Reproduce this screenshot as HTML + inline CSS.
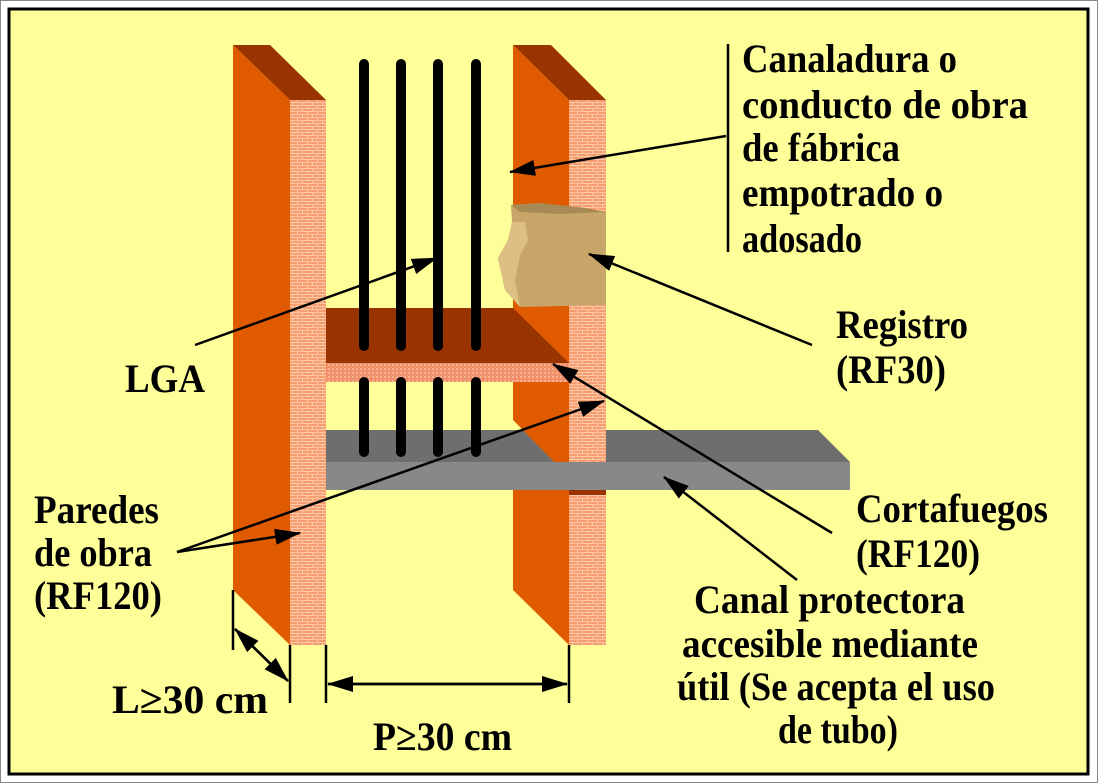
<!DOCTYPE html>
<html><head><meta charset="utf-8"><style>
html,body{margin:0;padding:0;background:#fff;}
svg{display:block;}
text{font-family:"Liberation Serif",serif;font-weight:bold;font-size:40px;fill:#000;}
</style></head><body>
<svg width="1098" height="783" viewBox="0 0 1098 783" xmlns="http://www.w3.org/2000/svg">
<defs>
<pattern id="brick" width="10" height="6" patternUnits="userSpaceOnUse">
<rect width="10" height="6" fill="#F59D6E"/>
<rect x="0" y="0" width="10" height="1" fill="#FCC8A8"/>
<rect x="0" y="3" width="10" height="1" fill="#FCC8A8"/>
<rect x="2" y="0" width="1" height="3" fill="#FCC8A8"/>
<rect x="7" y="3" width="1" height="3" fill="#FCC8A8"/>
</pattern>
<pattern id="brick2" width="4" height="4" patternUnits="userSpaceOnUse">
<rect width="4" height="4" fill="#F0906A"/>
<rect width="2" height="2" fill="#F8B090"/>
</pattern>
<marker id="ah" markerWidth="26" markerHeight="16" refX="25" refY="8" orient="auto" markerUnits="userSpaceOnUse" viewBox="0 0 26 16">
<path d="M0,0 L26,8 L0,16 z" fill="#000"/>
</marker>
</defs>
<rect x="0.5" y="0.5" width="1097" height="782" fill="#fff" stroke="#888"/>
<rect x="9" y="9" width="1079" height="765" fill="#FFFF99" stroke="#000" stroke-width="3"/>

<polygon points="233,45 270,45 326,100 290,100" fill="#993300"/>
<polygon points="233,45 290,100 290,645 233,590" fill="#E05A00"/>
<rect x="290" y="100" width="36" height="545" fill="url(#brick)"/>

<polygon points="326,430 818,430 850,462 326,462" fill="#6E6E6E"/>

<polygon points="513,45 551,45 606,100 569,100" fill="#993300"/>
<polygon points="513,45 569,100 569,477 513,420" fill="#E05A00"/>
<rect x="569" y="100" width="37" height="377" fill="url(#brick)"/>

<polygon points="326,308 513,308 569,363 326,363" fill="#993300"/>
<rect x="326" y="363" width="243" height="19" fill="url(#brick2)"/>

<g stroke="#000" stroke-width="10" stroke-linecap="round">
<line x1="364" y1="64" x2="364" y2="346"/>
<line x1="401" y1="64" x2="401" y2="346"/>
<line x1="438" y1="64" x2="438" y2="346"/>
<line x1="476" y1="64" x2="476" y2="346"/>
<line x1="364" y1="382" x2="364" y2="452"/>
<line x1="401" y1="382" x2="401" y2="452"/>
<line x1="438" y1="382" x2="438" y2="452"/>
<line x1="476" y1="382" x2="476" y2="452"/>
</g>

<rect x="326" y="462" width="524" height="28" fill="#888888"/>

<polygon points="513,490 569,490 569,645 513,590" fill="#E05A00"/>
<rect x="569" y="490" width="37" height="155" fill="url(#brick)"/>
<rect x="569" y="490" width="37" height="5" fill="#993300"/>

<path d="M511,205 L540,203 L585,208 L606,212 L606,305 L520,307 L505,290 L498,258 L508,240 L512,222 Z" fill="#C8A66A"/>
<path d="M511,205 L540,203 L585,208 L606,212 L560,214 L520,212 Z" fill="#A88A55"/>
<path d="M512,222 L508,240 L498,258 L505,290 L520,307 L515,280 L520,255 L528,240 L525,222 Z" fill="#DDBF85"/>

<g stroke="#000" stroke-width="2.5" fill="none">
<line x1="728" y1="44" x2="728" y2="252"/>
<line x1="726" y1="136" x2="510" y2="172" marker-end="url(#ah)"/>
<line x1="195" y1="345" x2="437" y2="258" marker-end="url(#ah)"/>
<line x1="812" y1="345" x2="589" y2="254" marker-end="url(#ah)"/>
<line x1="832" y1="533" x2="553" y2="364" marker-end="url(#ah)"/>
<line x1="797" y1="580" x2="664" y2="477" marker-end="url(#ah)"/>
<line x1="177" y1="552" x2="604" y2="401" marker-end="url(#ah)"/>
<line x1="177" y1="552" x2="300" y2="533" marker-end="url(#ah)"/>
<line x1="233" y1="590" x2="233" y2="650"/>
<line x1="290" y1="645" x2="290" y2="703"/>
<line x1="326" y1="645" x2="326" y2="703"/>
<line x1="569" y1="645" x2="569" y2="703"/>
<line x1="288" y1="681" x2="235" y2="629" marker-end="url(#ah)"/>
<line x1="235" y1="629" x2="288" y2="681" marker-end="url(#ah)"/>
<line x1="328" y1="684" x2="567" y2="684" marker-end="url(#ah)"/>
<line x1="567" y1="684" x2="328" y2="684" marker-end="url(#ah)"/>
</g>

<g>
<text x="742" y="72" textLength="215" lengthAdjust="spacingAndGlyphs">Canaladura o</text>
<text x="742" y="118" textLength="286" lengthAdjust="spacingAndGlyphs">conducto de obra</text>
<text x="742" y="161" textLength="158" lengthAdjust="spacingAndGlyphs">de fábrica</text>
<text x="742" y="206" textLength="201" lengthAdjust="spacingAndGlyphs">empotrado o</text>
<text x="742" y="252" textLength="120" lengthAdjust="spacingAndGlyphs">adosado</text>
<text x="125" y="392" textLength="80" lengthAdjust="spacingAndGlyphs">LGA</text>
<text x="836" y="338" textLength="132" lengthAdjust="spacingAndGlyphs">Registro</text>
<text x="836" y="383" textLength="110" lengthAdjust="spacingAndGlyphs">(RF30)</text>
<text x="34" y="523" textLength="125" lengthAdjust="spacingAndGlyphs">Paredes</text>
<text x="34" y="566" textLength="118" lengthAdjust="spacingAndGlyphs">de obra</text>
<text x="34" y="609" textLength="128" lengthAdjust="spacingAndGlyphs">(RF120)</text>
<text x="856" y="522" textLength="192" lengthAdjust="spacingAndGlyphs">Cortafuegos</text>
<text x="856" y="567" textLength="124" lengthAdjust="spacingAndGlyphs">(RF120)</text>
<text x="694" y="613" textLength="271" lengthAdjust="spacingAndGlyphs">Canal protectora</text>
<text x="682" y="657" textLength="296" lengthAdjust="spacingAndGlyphs">accesible mediante</text>
<text x="677" y="700" textLength="318" lengthAdjust="spacingAndGlyphs">útil (Se acepta el uso</text>
<text x="778" y="743" textLength="120" lengthAdjust="spacingAndGlyphs">de tubo)</text>
<text x="112" y="713" textLength="156" lengthAdjust="spacingAndGlyphs">L≥30 cm</text>
<text x="373" y="750" textLength="139" lengthAdjust="spacingAndGlyphs">P≥30 cm</text>
</g>
</svg>
</body></html>
